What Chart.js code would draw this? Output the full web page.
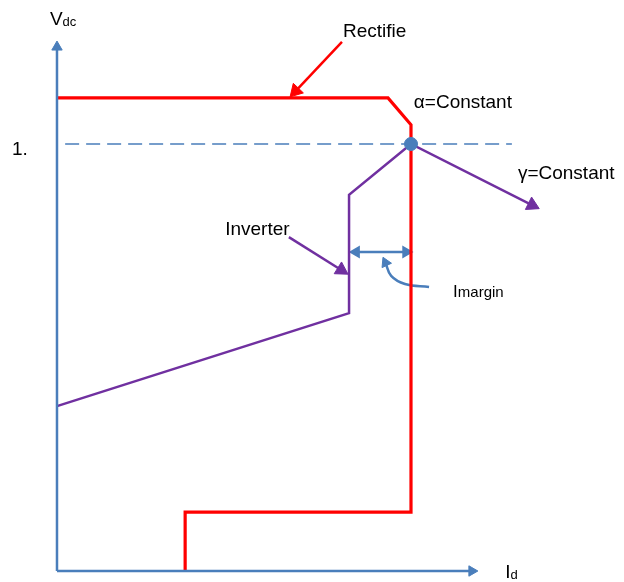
<!DOCTYPE html>
<html>
<head>
<meta charset="utf-8">
<script src="https://cdn.jsdelivr.net/npm/chart.js@4"></script>
<style>
  html, body { margin: 0; padding: 0; background: #fff; }
  #wrap { width: 624px; height: 582px; }
</style>
</head>
<body>
<div id="wrap"><canvas id="chart" width="624" height="582"></canvas></div>
<script>
/* HVDC control characteristic — Vdc vs Id, drawn with Chart.js */

// ── Data (Id along x, Vdc along y, Vdc = 1.0 at operating point) ─────────

const rectifierId = [0, 0.935, 1.0, 1.0, 0.362, 0.362];
const rectifierVdc = [1.108, 1.108, 1.045, 0.138, 0.138, 0];

const inverterId = [0, 0.825, 0.825, 1.0, 1.342];
const inverterVdc = [0.386, 0.604, 0.881, 1.0, 0.857];

const refId = [0.023, 1.285];
const refVdc = [1.0, 1.0];

const opId = [1.0];
const opVdc = [1.0];

// axes (origin to arrow)
const yAxisId = [0, 0];
const yAxisVdc = [0, 1.227];
const xAxisId = [0, 1.172];
const xAxisVdc = [0, 0];

// label pointers
const rectPtrId = [0.805, 0.674];
const rectPtrVdc = [1.239, 1.124];
const invPtrId = [0.655, 0.803];
const invPtrVdc = [0.782, 0.705];
const marginId = [0.845, 0.986];
const marginVdc = [0.747, 0.747];
const curveId = [1.051, 0.983, 0.944, 0.928];
const curveVdc = [0.665, 0.672, 0.691, 0.722];

const labels = [
  { text: "V", sub: "dc", x: -0.020, y: 1.279 },
  { text: "1.", x: -0.127, y: 0.974 },
  { text: "Rectifie", x: 0.808, y: 1.251 },
  { text: "\u03b1=Constant", x: 1.008, y: 1.084 },
  { text: "\u03b3=Constant", x: 1.302, y: 0.918 },
  { text: "Inverter", x: 0.475, y: 0.787 },
  { text: "I", sub: "margin", x: 1.119, y: 0.642, size: 17, subSize: 15, subDy: 0 },
  { text: "I", sub: "d", x: 1.266, y: -0.016 },
];

// ── Styles ───────────────────────────────────────────────────────────────

const RED = "#ff0000";
const PURPLE = "#7030a0";
const BLUE = "#4a7ebb";
const FONT = '"Liberation Sans", Arial, sans-serif';

const pts = (xs, ys) => xs.map((x, i) => ({ x, y: ys[i] }));

// arrow head on the last point of a line (rotation in degrees, clockwise from up)
function arrowLine(xs, ys, color, width, rot, r, extra) {
  const n = xs.length;
  return Object.assign({
    data: pts(xs, ys),
    showLine: true,
    borderColor: color,
    backgroundColor: color,
    borderWidth: width,
    pointStyle: "triangle",
    pointRadius: xs.map((_, i) => (i === n - 1 ? r : 0)),
    pointRotation: xs.map((_, i) => (i === n - 1 ? rot : 0)),
    pointBorderColor: color,
    pointBorderWidth: 1,
    tension: 0,
  }, extra || {});
}

// first dataset is drawn on top
const datasets = [
  {
    data: pts(opId, opVdc),
    showLine: false,
    pointRadius: 6.5,
    pointStyle: "circle",
    backgroundColor: BLUE,
    borderColor: BLUE,
    pointBackgroundColor: BLUE,
    pointBorderColor: BLUE,
    pointBorderWidth: 1,
  },
  arrowLine(yAxisId, yAxisVdc, BLUE, 2.5, 0, 6),
  arrowLine(xAxisId, xAxisVdc, BLUE, 2.5, 90, 6),
  {
    data: pts(refId, refVdc),
    showLine: true,
    borderColor: BLUE,
    borderWidth: 1.5,
    borderDash: [14, 7],
    pointRadius: 0,
  },
  {
    data: pts(rectifierId, rectifierVdc),
    showLine: true,
    borderColor: RED,
    borderWidth: 3.2,
    pointRadius: 0,
    borderJoinStyle: "miter",
  },
  arrowLine(inverterId, inverterVdc, PURPLE, 2.5, 116.6, 8),
  arrowLine(rectPtrId, rectPtrVdc, RED, 2.5, 223.4, 8),
  arrowLine(invPtrId, invPtrVdc, PURPLE, 2.5, 122, 8),
  {
    data: pts(marginId, marginVdc),
    showLine: true,
    borderColor: BLUE,
    backgroundColor: BLUE,
    borderWidth: 2.5,
    pointStyle: "triangle",
    pointRadius: 5,
    pointRotation: [270, 90],
    pointBorderColor: BLUE,
  },
  arrowLine(curveId, curveVdc, BLUE, 2.5, 335, 6, { tension: 0.4 }),
];

// ── Text labels ──────────────────────────────────────────────────────────

const labelPlugin = {
  id: "labels",
  afterDatasetsDraw(chart) {
    const ctx = chart.ctx;
    const sx = chart.scales.x;
    const sy = chart.scales.y;
    ctx.save();
    ctx.fillStyle = "#000";
    ctx.textBaseline = "alphabetic";
    ctx.textAlign = "left";
    labels.forEach((l) => {
      const px = sx.getPixelForValue(l.x);
      const py = sy.getPixelForValue(l.y);
      ctx.font = `${l.size || 19}px ${FONT}`;
      ctx.fillText(l.text, px, py);
      if (l.sub) {
        const w = ctx.measureText(l.text).width;
        ctx.font = `${l.subSize || 13}px ${FONT}`;
        ctx.fillText(l.sub, px + w, py + (l.subDy != null ? l.subDy : 1));
      }
    });
    ctx.restore();
  },
};

// ── Chart ────────────────────────────────────────────────────────────────

new Chart(document.getElementById("chart"), {
  type: "scatter",
  data: { datasets },
  options: {
    responsive: false,
    animation: false,
    layout: { padding: 0, autoPadding: false },
    scales: {
      x: { type: "linear", min: -0.161, max: 1.6017, display: false },
      y: { type: "linear", min: -0.02576, max: 1.3372, display: false },
    },
    plugins: { legend: { display: false }, tooltip: { enabled: false } },
  },
  plugins: [labelPlugin],
});
</script>
</body>
</html>
